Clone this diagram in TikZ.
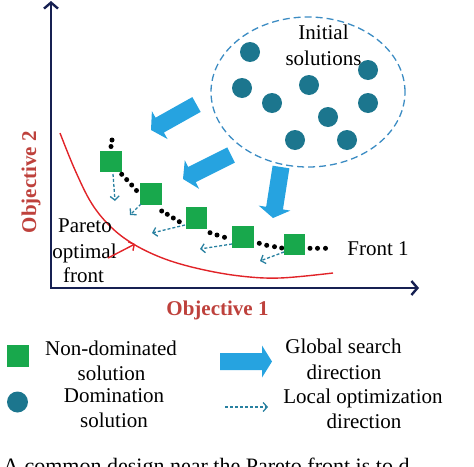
\documentclass[tikz,border=0pt]{standalone}
\usepackage{fontspec}
\setmainfont{Liberation Serif}
\usetikzlibrary{calc,arrows.meta}
\definecolor{ndgreen}{RGB}{24,168,76}
\definecolor{domteal}{RGB}{28,118,142}
\definecolor{gblue}{RGB}{38,163,224}
\definecolor{ellcol}{RGB}{60,140,195}
\definecolor{loccol}{RGB}{40,128,160}
\definecolor{axiscol}{RGB}{22,32,82}
\definecolor{objcol}{RGB}{190,65,60}
\definecolor{redcol}{RGB}{225,35,40}
\newcommand\blockarr[2]{%
  \coordinate (bb) at ($(#2)!10pt!(#1)$);
  \fill[gblue] ($(#1)!8.5pt!90:(#2)$) -- ($(bb)!8.5pt!-90:(#1)$) -- ($(bb)!16pt!-90:(#1)$) -- (#2)
    -- ($(bb)!16pt!90:(#1)$) -- ($(bb)!8.5pt!90:(#1)$) -- ($(#1)!8.5pt!-90:(#2)$) -- cycle;}
\begin{document}
\begin{tikzpicture}[x=1pt,y=-1pt,
  font=\fontsize{21}{26}\selectfont,
  lbl/.style={anchor=base,inner sep=0pt},
  objlbl/.style={font=\fontsize{21}{26}\selectfont\bfseries,text=objcol,inner sep=0pt},
  nondom/.style={fill=ndgreen,minimum size=21.5pt,inner sep=0pt},
  domsol/.style={circle,fill=domteal,minimum size=20pt,inner sep=0pt},
  axisline/.style={draw=axiscol,line width=2.4pt,{Straight Barb[length=6pt,width=14pt]}-{Straight Barb[length=6pt,width=14pt]}},
  localarr/.style={draw=loccol,line width=1.3pt,dash pattern=on 3pt off 2pt,-{Straight Barb[length=4pt,width=9pt]}},
  redarr/.style={draw=redcol,line width=1.4pt,-{Straight Barb[length=4pt,width=10pt]}},
  blackdot/.style={circle,fill=black,minimum size=5pt,inner sep=0pt}
]
\useasboundingbox (0,0) rectangle (474,466);
\begin{scope}
\clip (0,0) rectangle (474,466);
\node[anchor=base west,inner sep=0pt,font=\fontsize{22}{26}\selectfont] (caption) at (3,473) {A common design near the Pareto front is to d};
\end{scope}

% axes
\coordinate (ytop) at (51,1);
\coordinate (orig) at (51,288);
\coordinate (xend) at (419,288);
\draw[axisline] (ytop) -- (orig) -- (xend);
\node[objlbl,anchor=base] (obj1) at (217.5,315) {Objective 1};
\node[objlbl,rotate=90,anchor=center] (obj2) at (31,182) {Objective 2};

% initial solutions
\draw[ellcol,line width=1.3pt,dash pattern=on 7pt off 4pt] (308,92) ellipse [x radius=97pt, y radius=75pt];
\node[lbl] (init1) at (323.5,39) {Initial};
\node[lbl] (init2) at (323.5,65) {solutions};
\foreach \p [count=\i] in {(250,52),(368,70),(242,88),(309,85),(272,103),(368,103),(328,117),(295,140),(347,140)}
  \node[domsol] (d\i) at \p {};

% global search arrows
\coordinate (ga1) at (196.5,104.5); \coordinate (ga2) at (151,130);
\coordinate (gb1) at (231,155);     \coordinate (gb2) at (183,179);
\coordinate (gc1) at (281,167);     \coordinate (gc2) at (273,218);
\blockarr{ga1}{ga2}
\blockarr{gb1}{gb2}
\blockarr{gc1}{gc2}

% pareto front
\draw[redcol,line width=1.4pt] plot[smooth,tension=0.6] coordinates {(60,133) (75,170) (92,204) (112,228) (135,245) (165,259) (200,269) (240,276) (280,278) (333,273)};
\node[lbl] (par1) at (85,232) {Pareto};
\node[lbl] (par2) at (84.5,258) {optimal};
\node[lbl] (par3) at (83.5,282) {front};
\coordinate (ra1) at (108,258); \coordinate (ra2) at (135,244);
\draw[redarr] (ra1) -- (ra2);

% non-dominated front
\node[nondom] (s1) at (111,161.5) {};
\node[nondom] (s2) at (151,194) {};
\node[nondom] (s3) at (196.5,218) {};
\node[nondom] (s4) at (243,237) {};
\node[nondom] (s5) at (294.5,244.5) {};
\foreach \p in {(112,140),(111,146.5),(121.7,174.3),(126.7,179.6),(131.7,185),(136.5,190.5),
  (161.7,211),(167.3,214.3),(173.3,218),(179.3,221.7),(210,232.7),(217,235),(224.5,237.3),
  (259.3,243.3),(266.7,245.3),(274.5,246.7),(281.7,248),(310,248.3),(317.5,248.3),(325.5,248.3)}
  \node[blackdot] at \p {};
\node[lbl] (front1) at (378,255) {Front 1};

% local optimization arrows
\coordinate (l1a) at (113,174); \coordinate (l1b) at (115,201);
\coordinate (l2a) at (141,204); \coordinate (l2b) at (130,215);
\coordinate (l3a) at (185,225); \coordinate (l3b) at (152,233);
\coordinate (l4a) at (232,244); \coordinate (l4b) at (200,249);
\coordinate (l5a) at (284,252); \coordinate (l5b) at (260,261);
\draw[localarr] (l1a) -- (l1b);
\draw[localarr] (l2a) -- (l2b);
\draw[localarr] (l3a) -- (l3b);
\draw[localarr] (l4a) -- (l4b);
\draw[localarr] (l5a) -- (l5b);

% legend
\node[nondom,minimum size=22pt] (legsq) at (18,356) {};
\node[domsol,minimum size=21pt] (legci) at (17.5,402) {};
\node[lbl] (lnd1) at (111,355) {Non-dominated};
\node[lbl] (lnd2) at (111.5,380) {solution};
\node[lbl] (ldo1) at (114,402) {Domination};
\node[lbl] (ldo2) at (114,427) {solution};
\coordinate (lg1) at (220,361.5); \coordinate (lg2) at (272,361.5);
\blockarr{lg1}{lg2}
\node[lbl] (lgs1) at (343.5,353) {Global search};
\node[lbl] (lgs2) at (344,379) {direction};
\coordinate (ll1) at (225,407); \coordinate (ll2) at (268,407);
\draw[localarr] (ll1) -- (ll2);
\node[lbl] (llo1) at (363,403) {Local optimization};
\node[lbl] (llo2) at (364,428) {direction};
\end{tikzpicture}
\end{document}
